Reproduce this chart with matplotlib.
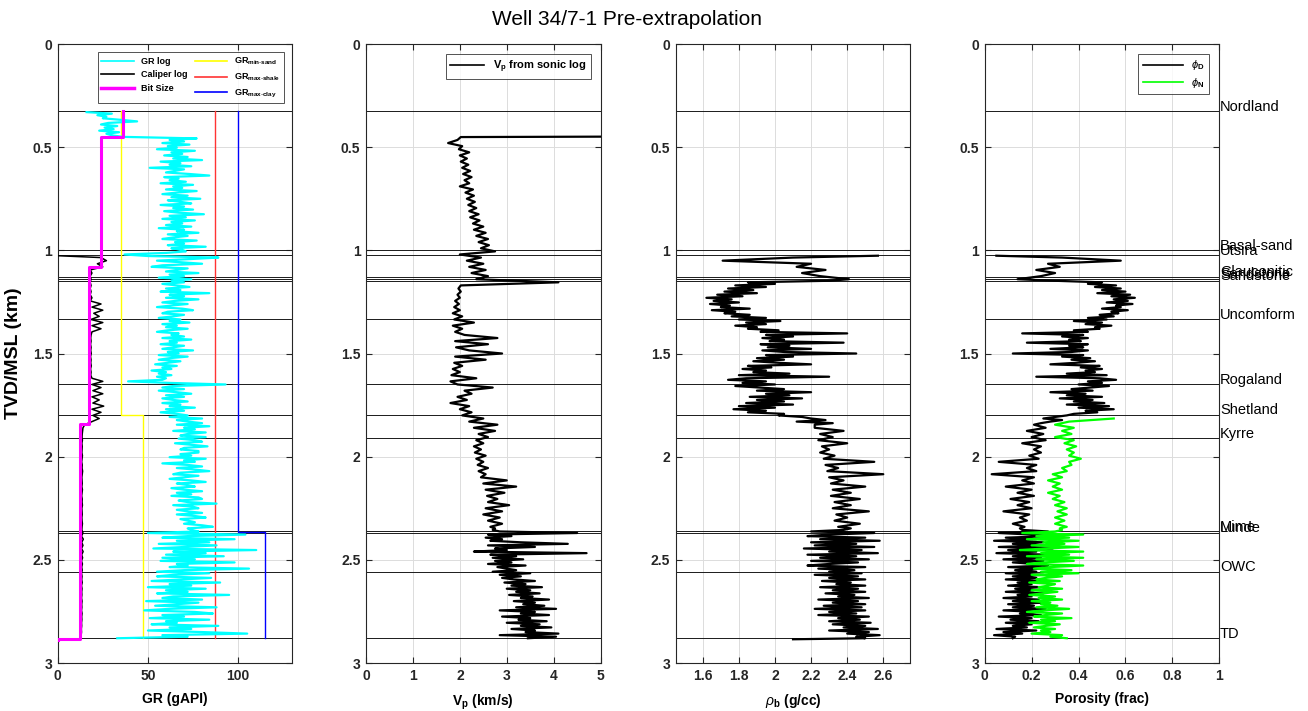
import numpy as np
import matplotlib
matplotlib.use("Agg")
import matplotlib.pyplot as plt
import matplotlib.transforms as mtransforms
from matplotlib.lines import Line2D

plt.rcParams['font.family'] = ['Liberation Sans', 'DejaVu Sans']
plt.rcParams['mathtext.fontset'] = 'custom'
plt.rcParams['mathtext.rm'] = 'Liberation Sans'
plt.rcParams['mathtext.it'] = 'Liberation Sans:italic'
plt.rcParams['mathtext.bf'] = 'Liberation Sans:bold'

# ---------------- data ----------------
# fine depth sampling (km)
DEPTH_FINE = [
    0.3300, 0.3375, 0.3450, 0.3525, 0.3600, 0.3675, 0.3750, 0.3825, 0.3900, 0.3975,
    0.4050, 0.4125, 0.4200, 0.4275, 0.4350, 0.4425, 0.4500, 0.4575, 0.4650, 0.4725,
    0.4800, 0.4875, 0.4950, 0.5025, 0.5100, 0.5175, 0.5250, 0.5325, 0.5400, 0.5475,
    0.5550, 0.5625, 0.5700, 0.5775, 0.5850, 0.5925, 0.6000, 0.6075, 0.6150, 0.6225,
    0.6300, 0.6375, 0.6450, 0.6525, 0.6600, 0.6675, 0.6750, 0.6825, 0.6900, 0.6975,
    0.7050, 0.7125, 0.7200, 0.7275, 0.7350, 0.7425, 0.7500, 0.7575, 0.7650, 0.7725,
    0.7800, 0.7875, 0.7950, 0.8025, 0.8100, 0.8175, 0.8250, 0.8325, 0.8400, 0.8475,
    0.8550, 0.8625, 0.8700, 0.8775, 0.8850, 0.8925, 0.9000, 0.9075, 0.9150, 0.9225,
    0.9300, 0.9375, 0.9450, 0.9525, 0.9600, 0.9675, 0.9750, 0.9825, 0.9900, 0.9975,
    1.0050, 1.0125, 1.0200, 1.0275, 1.0350, 1.0425, 1.0500, 1.0575, 1.0650, 1.0725,
    1.0800, 1.0875, 1.0950, 1.1025, 1.1100, 1.1175, 1.1250, 1.1325, 1.1400, 1.1475,
    1.1550, 1.1625, 1.1700, 1.1775, 1.1850, 1.1925, 1.2000, 1.2075, 1.2150, 1.2225,
    1.2300, 1.2375, 1.2450, 1.2525, 1.2600, 1.2675, 1.2750, 1.2825, 1.2900, 1.2975,
    1.3050, 1.3125, 1.3200, 1.3275, 1.3350, 1.3425, 1.3500, 1.3575, 1.3650, 1.3725,
    1.3800, 1.3875, 1.3950, 1.4025, 1.4100, 1.4175, 1.4250, 1.4325, 1.4400, 1.4475,
    1.4550, 1.4625, 1.4700, 1.4775, 1.4850, 1.4925, 1.5000, 1.5075, 1.5150, 1.5225,
    1.5300, 1.5375, 1.5450, 1.5525, 1.5600, 1.5675, 1.5750, 1.5825, 1.5900, 1.5975,
    1.6050, 1.6125, 1.6200, 1.6275, 1.6350, 1.6425, 1.6500, 1.6575, 1.6650, 1.6725,
    1.6800, 1.6875, 1.6950, 1.7025, 1.7100, 1.7175, 1.7250, 1.7325, 1.7400, 1.7475,
    1.7550, 1.7625, 1.7700, 1.7775, 1.7850, 1.7925, 1.8000, 1.8075, 1.8150, 1.8225,
    1.8300, 1.8375, 1.8450, 1.8525, 1.8600, 1.8675, 1.8750, 1.8825, 1.8900, 1.8975,
    1.9050, 1.9125, 1.9200, 1.9275, 1.9350, 1.9425, 1.9500, 1.9575, 1.9650, 1.9725,
    1.9800, 1.9875, 1.9950, 2.0025, 2.0100, 2.0175, 2.0250, 2.0325, 2.0400, 2.0475,
    2.0550, 2.0625, 2.0700, 2.0775, 2.0850, 2.0925, 2.1000, 2.1075, 2.1150, 2.1225,
    2.1300, 2.1375, 2.1450, 2.1525, 2.1600, 2.1675, 2.1750, 2.1825, 2.1900, 2.1975,
    2.2050, 2.2125, 2.2200, 2.2275, 2.2350, 2.2425, 2.2500, 2.2575, 2.2650, 2.2725,
    2.2800, 2.2875, 2.2950, 2.3025, 2.3100, 2.3175, 2.3250, 2.3325, 2.3400, 2.3475,
    2.3550, 2.3625, 2.3700, 2.3775, 2.3850, 2.3925, 2.4000, 2.4075, 2.4150, 2.4225,
    2.4300, 2.4375, 2.4450, 2.4525, 2.4600, 2.4675, 2.4750, 2.4825, 2.4900, 2.4975,
    2.5050, 2.5125, 2.5200, 2.5275, 2.5350, 2.5425, 2.5500, 2.5575, 2.5650, 2.5725,
    2.5800, 2.5875, 2.5950, 2.6025, 2.6100, 2.6175, 2.6250, 2.6325, 2.6400, 2.6475,
    2.6550, 2.6625, 2.6700, 2.6775, 2.6850, 2.6925, 2.7000, 2.7075, 2.7150, 2.7225,
    2.7300, 2.7375, 2.7450, 2.7525, 2.7600, 2.7675, 2.7750, 2.7825, 2.7900, 2.7975,
    2.8050, 2.8125, 2.8200, 2.8275, 2.8350, 2.8425, 2.8500, 2.8575, 2.8650, 2.8725,
    2.8800,
]
# coarse depth sampling (every second fine sample)
DEPTH = DEPTH_FINE[::2]
# fine samples of the Hordaland/Rogaland section (1.1475 to 1.845 km)
DEPTH_MID = DEPTH_FINE[109:203]
# fine samples of the reservoir section (2.3475 km to TD)
DEPTH_LOW = DEPTH_FINE[269:]

GR = [
    16, 30, 22, 27, 25, 35, 44, 28, 24, 33,
    26, 31, 23, 34, 27, 30, 36, 77, 62, 70,
    58, 73, 61, 66, 55, 76, 63, 69, 59, 72,
    64, 80, 57, 68, 62, 74, 51, 70, 65, 60,
    73, 84, 59, 67, 62, 71, 57, 75, 64, 69,
    60, 77, 66, 58, 72, 63, 79, 61, 68, 74,
    57, 70, 64, 75, 59, 67, 81, 62, 71, 58,
    76, 63, 69, 60, 74, 56, 70, 66, 78, 61,
    72, 64, 58, 77, 65, 70, 61, 82, 63, 69,
    71, 60, 37, 50, 89, 73, 55, 68, 80, 58,
    52, 72, 66, 60, 78, 62, 70, 56, 74, 63,
    70, 58, 66, 73, 60, 68, 57, 84, 62, 70,
    60, 78, 65, 58, 72, 63, 55, 69, 75, 61,
    58, 70, 64, 56, 68, 62, 73, 58, 66, 60,
    72, 61, 55, 67, 63, 70, 58, 74, 62, 66,
    57, 70, 64, 58, 75, 61, 67, 56, 72, 62,
    56, 68, 61, 54, 66, 58, 63, 52, 60, 56,
    63, 55, 60, 58, 39, 62, 93, 64, 58, 70,
    56, 66, 74, 60, 70, 58, 64, 72, 58, 68,
    62, 76, 60, 70, 57, 66, 72, 62, 80, 66,
    72, 80, 66, 84, 70, 76, 64, 82, 72, 68,
    82, 67, 76, 80, 65, 74, 83, 70, 68, 78,
    78, 68, 74, 62, 82, 70, 76, 58, 72, 80,
    66, 76, 84, 68, 64, 78, 70, 62, 74, 82,
    66, 72, 76, 63, 70, 80, 66, 74, 63, 78,
    80, 67, 72, 88, 64, 75, 78, 66, 72, 80,
    66, 76, 82, 68, 72, 76, 70, 80, 86, 72,
    74, 78, 50, 104, 72, 58, 98, 66, 84, 56,
    88, 70, 53, 110, 64, 82, 60, 92, 58, 76,
    57, 98, 66, 72, 62, 106, 70, 55, 84, 64,
    55, 85, 68, 52, 90, 62, 74, 50, 82, 60,
    72, 55, 95, 64, 58, 80, 49, 78, 66, 54,
    88, 62, 48, 76, 86, 58, 70, 51, 84, 60,
    66, 52, 89, 62, 74, 50, 80, 105, 58, 72,
    33,
]

# caliper: first sample at Utsira top, then DEPTH[47:]
CAL_HEAD_DEPTH = [1.026]
CAL_HEAD = [0.0]
CAL = [
    24, 27, 22,
    25, 18, 19, 18, 18.5, 18, 18.5, 18, 18.5, 18,
    19, 18, 24, 19, 25, 20, 23, 18.5, 25, 19,
    24, 19, 18.5, 18.3, 18.5, 18.2, 18.5, 18.3, 18.6, 18.2,
    18.5, 18.3, 18.6, 18.2, 18.5, 18.3, 19, 25, 19, 24,
    19.5, 25, 19, 23, 19.5, 25.5, 19, 24, 19.5, 23,
    19, 15, 14, 13.8, 13.6, 13.5, 13.7, 13.4, 13.6, 13.5,
    13.4, 13.7, 13.5, 13.3, 13.6, 13.5, 13.8, 13.6, 13.4, 13.5,
    13.6, 13.4, 13.7, 13.5, 13.3, 13.6, 13.5, 13.7, 13.4, 13.5,
    13.6, 13.4, 13.5, 13.7, 13.5, 13.4, 14.0, 13.2, 14.2, 13.3,
    14.0, 13.2, 14.1, 13.3, 13.8, 13.2, 13.7, 13.3, 13.6, 13.2,
    13.5, 13.3, 13.6, 13.2, 13.5, 13.3, 13.4, 13.2, 13.5, 13.3,
    13.4, 13.2, 13.5, 13.3, 13.4, 13.2, 13.3, 13.1, 13.2, 13.0,
    12.5,
]

BIT_TOPS = [0.325, 0.452, 1.080, 1.843, 2.886]
BIT_SIZES = [36, 24, 17.5, 12.25, 0]
BIT_BOTTOM = 2.890

GR_SAND_TOPS = [0.325, 1.800]
GR_SAND = [35, 47]
GR_SHALE_TOPS = [0.325]
GR_SHALE = [87]
GR_CLAY_TOPS = [0.325, 2.365]
GR_CLAY = [100, 115]
GR_BOTTOM = 2.880

# Vp: first samples at the top, DEPTH[9:135], then DEPTH_LOW
VP_HEAD_DEPTH = [0.448, 0.451]
VP_HEAD = [6.5, 2.02]
VP = [
    1.95,
    1.75, 2.05, 1.98, 2.2, 2.0, 2.15, 2.02, 2.18, 2.05, 2.22,
    2.07, 2.25, 2.1, 2.2, 2.0, 2.28, 2.12, 2.3, 2.15, 2.32,
    2.18, 2.35, 2.2, 2.4, 2.22, 2.42, 2.28, 2.5, 2.3, 2.55,
    2.35, 2.6, 2.4, 2.62, 2.45, 2.75, 2.0, 2.45, 2.15, 2.5,
    2.2, 2.55, 2.25, 2.6, 2.35, 4.1, 2.02, 1.97, 2.02, 1.95,
    2.0, 1.9, 1.98, 1.88, 2.0, 1.85, 2.05, 1.88, 2.3, 1.85,
    2.05, 1.9, 2.1, 2.8, 1.9, 2.6, 1.92, 2.2, 2.9, 1.9,
    2.55, 1.88, 2.05, 1.85, 2.0, 1.82, 2.35, 1.8, 1.95, 2.7,
    2.1, 2.25, 1.95, 2.15, 1.8, 2.2, 2.0, 2.25, 2.05, 2.5,
    2.2, 2.8, 2.3, 2.75, 2.4, 2.6, 2.35, 2.5, 2.3, 2.45,
    2.32, 2.55, 2.35, 2.5, 2.38, 2.6, 2.4, 2.55, 2.45, 3.0,
    2.5, 3.2, 2.55, 2.95, 2.58, 2.8, 2.6, 3.05, 2.55, 2.9,
    2.5, 2.85, 2.6, 2.9, 2.65,
]
VP_LOW = [
    2.75,
    2.7, 2.85, 4.5, 2.6, 3.1, 2.55, 2.9, 2.65, 3.3, 4.3,
    2.6, 3.6, 2.75, 3.0, 2.3, 4.7, 2.65, 3.2, 2.7, 3.35,
    2.75, 3.1, 2.6, 3.4, 2.8, 3.0, 3.2, 2.7, 3.5, 2.85,
    3.3, 2.9, 3.15, 3.6, 2.95, 3.4, 3.1, 3.75, 3.0, 3.5,
    3.2, 3.7, 3.05, 3.55, 3.3, 3.9, 3.15, 3.6, 3.35, 3.8,
    3.2, 4.05, 2.85, 3.6, 3.3, 3.9, 2.9, 3.5, 3.25, 3.85,
    3.0, 3.7, 3.3, 3.95, 3.1, 3.6, 3.4, 4.1, 2.85, 4.05,
    3.45,
]

# density: first sample, DEPTH[47:55], DEPTH_MID, DEPTH[102:135], DEPTH_LOW, last sample
RHO_HEAD_DEPTH = [1.026]
RHO_HEAD = [2.57]
RHO_TOP = [2.1, 1.71, 2.2, 2.12, 2.28, 2.15, 2.25, 2.41]
RHO_MID = [
    2.3,
    1.85, 2.0, 1.78, 1.95, 1.74, 1.88, 1.72, 1.9, 1.68, 1.82,
    1.62, 1.76, 1.66, 1.8, 1.64, 1.75, 1.7, 1.86, 1.65, 1.78,
    1.72, 1.86, 1.76, 1.95, 1.8, 2.03, 1.84, 1.95, 1.78, 1.9,
    1.85, 2.02, 1.92, 2.4, 1.95, 2.1, 1.93, 2.05, 1.97, 2.38,
    1.92, 2.08, 1.96, 2.2, 1.93, 2.05, 2.45, 1.95, 2.1, 1.9,
    2.05, 1.88, 2.02, 2.2, 1.85, 1.98, 1.82, 1.95, 1.88, 2.08,
    1.8, 2.3, 1.84, 1.74, 1.95, 1.82, 2.0, 1.78, 1.92, 2.05,
    1.9, 2.2, 1.95, 2.08, 1.86, 2.15, 1.9, 2.05, 1.84, 2.1,
    1.8, 2.0, 1.77, 1.95, 1.85, 2.05, 2.02, 2.15, 2.2, 2.28,
    2.12, 2.32, 2.22,
]
RHO_DEEP = [
    2.22, 2.38, 2.25, 2.32, 2.24, 2.4, 2.26, 2.3,
    2.25, 2.33, 2.27, 2.55, 2.28, 2.35, 2.29, 2.6, 2.3, 2.38,
    2.31, 2.5, 2.32, 2.42, 2.31, 2.47, 2.33, 2.42, 2.32, 2.52,
    2.34, 2.4, 2.33, 2.47, 2.35,
]
RHO_LOW = [
    2.42,
    2.38, 2.2, 2.55, 2.3, 2.18, 2.5, 2.25, 2.58, 2.2, 2.45,
    2.22, 2.55, 2.16, 2.48, 2.3, 2.57, 2.18, 2.45, 2.25, 2.52,
    2.2, 2.46, 2.3, 2.18, 2.5, 2.24, 2.44, 2.3, 2.48, 2.22,
    2.46, 2.3, 2.5, 2.26, 2.42, 2.34, 2.5, 2.25, 2.46, 2.32,
    2.5, 2.28, 2.44, 2.35, 2.52, 2.24, 2.46, 2.32, 2.5, 2.27,
    2.48, 2.22, 2.5, 2.3, 2.45, 2.24, 2.52, 2.35, 2.47, 2.3,
    2.53, 2.32, 2.5, 2.38, 2.57, 2.3, 2.52, 2.4, 2.58, 2.45,
    2.5,
]
RHO_TAIL_DEPTH = [2.885]
RHO_TAIL = [2.10]

# density porosity: first sample, DEPTH[47:55], DEPTH_MID, DEPTH[102:135], DEPTH_LOW
PHID_HEAD_DEPTH = [1.026]
PHID_HEAD = [0.05]
PHID_TOP = [0.33, 0.58, 0.27, 0.32, 0.22, 0.30, 0.24, 0.14]
PHID_MID = [
    0.30,
    0.50, 0.44, 0.56, 0.47, 0.58, 0.50, 0.60, 0.48, 0.62, 0.54,
    0.64, 0.55, 0.61, 0.52, 0.63, 0.56, 0.58, 0.50, 0.61, 0.54,
    0.57, 0.49, 0.55, 0.44, 0.52, 0.38, 0.50, 0.43, 0.54, 0.47,
    0.49, 0.38, 0.44, 0.16, 0.42, 0.33, 0.44, 0.36, 0.41, 0.18,
    0.44, 0.36, 0.42, 0.28, 0.44, 0.37, 0.12, 0.42, 0.33, 0.45,
    0.37, 0.47, 0.39, 0.28, 0.49, 0.41, 0.50, 0.43, 0.47, 0.35,
    0.52, 0.22, 0.49, 0.56, 0.44, 0.50, 0.40, 0.53, 0.45, 0.37,
    0.46, 0.28, 0.43, 0.35, 0.50, 0.32, 0.46, 0.38, 0.51, 0.35,
    0.53, 0.40, 0.55, 0.43, 0.48, 0.38, 0.35, 0.30, 0.25, 0.33,
    0.28, 0.24, 0.21,
]
PHID_DEEP = [
    0.26, 0.18, 0.25, 0.20, 0.26, 0.16, 0.24, 0.21,
    0.24, 0.19, 0.23, 0.06, 0.22, 0.18, 0.22, 0.03, 0.21, 0.16,
    0.21, 0.09, 0.20, 0.14, 0.21, 0.11, 0.19, 0.14, 0.20, 0.08,
    0.19, 0.15, 0.18, 0.12, 0.17,
]
PHID_LOW = [
    0.15,
    0.16, 0.27, 0.06, 0.20, 0.28, 0.09, 0.22, 0.04, 0.25, 0.12,
    0.26, 0.06, 0.29, 0.10, 0.22, 0.05, 0.27, 0.12, 0.24, 0.08,
    0.25, 0.12, 0.21, 0.27, 0.10, 0.24, 0.13, 0.22, 0.09, 0.25,
    0.12, 0.22, 0.09, 0.25, 0.14, 0.20, 0.10, 0.24, 0.13, 0.21,
    0.09, 0.25, 0.14, 0.20, 0.08, 0.23, 0.12, 0.25, 0.10, 0.21,
    0.12, 0.26, 0.08, 0.22, 0.15, 0.24, 0.06, 0.20, 0.11, 0.23,
    0.09, 0.20, 0.12, 0.18, 0.05, 0.22, 0.08, 0.16, 0.04, 0.13,
    0.12,
]

# neutron porosity: DEPTH[99:135], DEPTH_LOW
PHIN = [
    0.55,
    0.36, 0.30, 0.38, 0.33, 0.37, 0.30, 0.38, 0.34, 0.39, 0.35,
    0.38, 0.36, 0.41, 0.36, 0.37, 0.33, 0.35, 0.29, 0.33, 0.27,
    0.32, 0.29, 0.33, 0.27, 0.32, 0.29, 0.34, 0.30, 0.35, 0.31,
    0.35, 0.30, 0.34, 0.30, 0.35,
]
PHIN_LOW = [
    0.32,
    0.33, 0.30, 0.16, 0.42, 0.22, 0.36, 0.18, 0.40, 0.25, 0.34,
    0.20, 0.40, 0.26, 0.15, 0.42, 0.24, 0.36, 0.18, 0.42, 0.22,
    0.38, 0.25, 0.18, 0.42, 0.28, 0.21, 0.37, 0.24, 0.40, 0.20,
    0.33, 0.26, 0.22, 0.32, 0.19, 0.30, 0.27, 0.23, 0.33, 0.20,
    0.31, 0.25, 0.19, 0.30, 0.23, 0.33, 0.20, 0.28, 0.24, 0.31,
    0.22, 0.36, 0.25, 0.18, 0.33, 0.26, 0.21, 0.37, 0.24, 0.30,
    0.19, 0.32, 0.26, 0.21, 0.30, 0.24, 0.28, 0.20, 0.33, 0.28,
    0.35,
]

FORMATION_NAMES = ['Nordland', 'Basal-sand', 'Utsira', 'Glauconitic', 'Sandstone',
                   'Sandstone', 'Uncomform', 'Rogaland', 'Shetland', 'Kyrre',
                   'Mime', 'Lunde', 'OWC', 'TD']
FORMATION_TOPS = [0.325, 1.000, 1.024, 1.128, 1.139, 1.148, 1.333, 1.648, 1.798,
                  1.910, 2.362, 2.368, 2.559, 2.879]

# ---------------- helpers ----------------
def step_profile(tops, values, bottom):
    xs, ys = [], []
    edges = list(tops) + [bottom]
    for i, v in enumerate(values):
        xs += [v, v]
        ys += [edges[i], edges[i + 1]]
    return xs, ys

AX_COL = '#262626'
YTICKS = [0, 0.5, 1, 1.5, 2, 2.5, 3]
YTICKLABELS = ['0', '0.5', '1', '1.5', '2', '2.5', '3']
LOG_LW = 1.6

fig = plt.figure(figsize=(13.08, 7.11), dpi=100)
lefts = [0.0441, 0.2798, 0.5166, 0.7528]
W, B, H = 0.1794, 0.0675, 0.8706
axes = [fig.add_axes([l, B, W, H]) for l in lefts]

for ax in axes:
    ax.set_ylim(3, 0)
    ax.set_yticks(YTICKS)
    ax.set_yticklabels(YTICKLABELS, fontweight='bold', fontsize=10)
    ax.tick_params(direction='in', top=True, right=True, length=4, width=0.8,
                   color=AX_COL, labelcolor=AX_COL, pad=4)
    ax.grid(True, color='#dcdcdc', lw=0.7)
    ax.set_axisbelow(True)
    for s in ax.spines.values():
        s.set_color(AX_COL)
        s.set_linewidth(0.8)
    for d in FORMATION_TOPS:
        ax.axhline(d, color='#1a1a1a', lw=0.7, zorder=1.5)

# ---- panel 1: GR ----
ax = axes[0]
ax.set_xlim(0, 130)
ax.set_xticks([0, 50, 100])
ax.set_xticklabels(['0', '50', '100'], fontweight='bold', fontsize=10)
ax.plot(GR, DEPTH_FINE, color='#00ffff', lw=1.6, zorder=3)
ax.plot(CAL_HEAD + CAL, CAL_HEAD_DEPTH + DEPTH[47:], color='black', lw=1.1, zorder=4)
bx, by = step_profile(BIT_TOPS, BIT_SIZES, BIT_BOTTOM)
ax.plot(bx, by, color='#ff00ff', lw=2.2, zorder=5)
sx, sy = step_profile(GR_SAND_TOPS, GR_SAND, GR_BOTTOM)
ax.plot(sx, sy, color='#ffff00', lw=1.0, zorder=2)
hx, hy = step_profile(GR_SHALE_TOPS, GR_SHALE, GR_BOTTOM)
ax.plot(hx, hy, color='#ff3333', lw=1.0, zorder=2)
cx, cy = step_profile(GR_CLAY_TOPS, GR_CLAY, GR_BOTTOM)
ax.plot(cx, cy, color='#0000ff', lw=1.0, zorder=2)
ax.set_xlabel('GR (gAPI)', fontweight='bold', fontsize=10, labelpad=7)
ax.set_ylabel('TVD/MSL (km)', fontweight='bold', fontsize=14, labelpad=8)
handles = [Line2D([], [], color='#00ffff', lw=1.2),
           Line2D([], [], color='black', lw=1.2),
           Line2D([], [], color='#ff00ff', lw=2.5),
           Line2D([], [], color='#ffff00', lw=1.2),
           Line2D([], [], color='#ff3333', lw=1.2),
           Line2D([], [], color='#0000ff', lw=1.2)]
labels = ['GR log', 'Caliper log', 'Bit Size',
          r'GR$_{\mathbf{min\text{-}sand}}$', r'GR$_{\mathbf{max\text{-}shale}}$',
          r'GR$_{\mathbf{max\text{-}clay}}$']
leg = ax.legend(handles, labels, ncol=2, loc='upper right',
                prop={'weight': 'bold', 'size': 6.5}, frameon=True, fancybox=False,
                edgecolor=AX_COL, handlelength=3.6, columnspacing=0.8,
                borderaxespad=0.9, labelspacing=0.5, handletextpad=0.8)
leg.get_frame().set_linewidth(0.7)

# ---- panel 2: Vp ----
ax = axes[1]
ax.set_xlim(0, 5)
ax.set_xticks([0, 1, 2, 3, 4, 5])
ax.set_xticklabels(['0', '1', '2', '3', '4', '5'], fontweight='bold', fontsize=10)
ax.plot(VP_HEAD + VP + VP_LOW, VP_HEAD_DEPTH + DEPTH[9:135] + DEPTH_LOW,
        color='black', lw=LOG_LW, zorder=3)
ax.set_xlabel(r'V$_{\mathbf{p}}$ (km/s)', fontweight='bold', fontsize=10, labelpad=7)
leg = ax.legend([Line2D([], [], color='black', lw=1.2)],
                [r'V$_{\mathbf{p}}$ from sonic log'], loc='upper right',
                prop={'weight': 'bold', 'size': 8}, frameon=True, fancybox=False,
                edgecolor=AX_COL, handlelength=3.0, borderaxespad=0.9)
leg.get_frame().set_linewidth(0.7)

# ---- panel 3: density ----
ax = axes[2]
ax.set_xlim(1.45, 2.75)
ax.set_xticks([1.6, 1.8, 2.0, 2.2, 2.4, 2.6])
ax.set_xticklabels(['1.6', '1.8', '2', '2.2', '2.4', '2.6'], fontweight='bold', fontsize=10)
ax.plot(RHO_HEAD + RHO_TOP + RHO_MID + RHO_DEEP + RHO_LOW + RHO_TAIL,
        RHO_HEAD_DEPTH + DEPTH[47:55] + DEPTH_MID + DEPTH[102:135] + DEPTH_LOW + RHO_TAIL_DEPTH,
        color='black', lw=LOG_LW, zorder=3)
ax.set_xlabel(r'$\rho_{\mathbf{b}}$ (g/cc)', fontweight='bold', fontsize=10, labelpad=7)

# ---- panel 4: porosity ----
ax = axes[3]
ax.set_xlim(0, 1)
ax.set_xticks([0, 0.2, 0.4, 0.6, 0.8, 1.0])
ax.set_xticklabels(['0', '0.2', '0.4', '0.6', '0.8', '1'], fontweight='bold', fontsize=10)
ax.plot(PHID_HEAD + PHID_TOP + PHID_MID + PHID_DEEP + PHID_LOW,
        PHID_HEAD_DEPTH + DEPTH[47:55] + DEPTH_MID + DEPTH[102:135] + DEPTH_LOW,
        color='black', lw=LOG_LW, zorder=3)
ax.plot(PHIN + PHIN_LOW, DEPTH[99:135] + DEPTH_LOW, color='#00ff00', lw=LOG_LW, zorder=4)
ax.set_xlabel('Porosity (frac)', fontweight='bold', fontsize=10, labelpad=7)
leg = ax.legend([Line2D([], [], color='black', lw=1.2), Line2D([], [], color='#00ff00', lw=1.2)],
                [r'$\phi_{\mathbf{D}}$', r'$\phi_{\mathbf{N}}$'], loc='upper right',
                prop={'size': 8}, frameon=True, fancybox=False, edgecolor=AX_COL,
                handlelength=3.6, borderaxespad=0.9, labelspacing=0.3)
leg.get_frame().set_linewidth(0.7)
trans = mtransforms.blended_transform_factory(ax.transAxes, ax.transData)
for name, d in zip(FORMATION_NAMES, FORMATION_TOPS):
    ax.text(1.003, d - 0.022, name, transform=trans, fontsize=10.5, va='center',
            ha='left', color='black', clip_on=False)

fig.text(0.479, 0.973, 'Well 34/7-1 Pre-extrapolation', ha='center', va='center',
         fontsize=15, color='black')

fig.savefig('out.png', dpi=100, facecolor='white')
